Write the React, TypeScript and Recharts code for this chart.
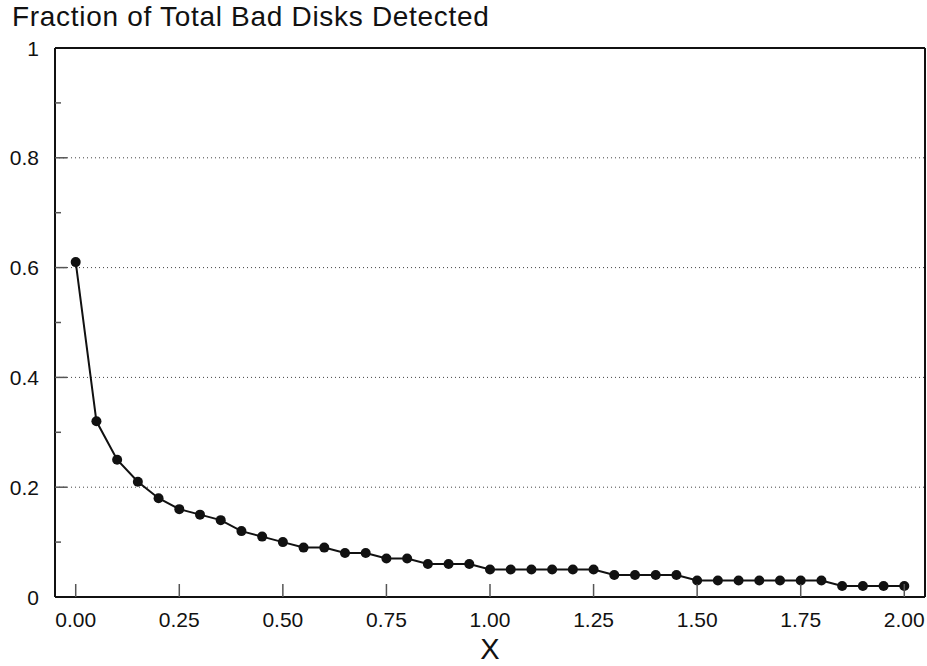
import React from 'react';
import { LineChart, Line, XAxis, YAxis, ReferenceLine } from 'recharts';

const xValues = [0, 0.05, 0.1, 0.15, 0.2, 0.25, 0.3, 0.35, 0.4, 0.45, 0.5, 0.55, 0.6, 0.65, 0.7, 0.75, 0.8, 0.85, 0.9, 0.95, 1.0, 1.05, 1.1, 1.15, 1.2, 1.25, 1.3, 1.35, 1.4, 1.45, 1.5, 1.55, 1.6, 1.65, 1.7, 1.75, 1.8, 1.85, 1.9, 1.95, 2.0];
const fractionDetected = [0.61, 0.32, 0.25, 0.21, 0.18, 0.16, 0.15, 0.14, 0.12, 0.11, 0.10, 0.09, 0.09, 0.08, 0.08, 0.07, 0.07, 0.06, 0.06, 0.06, 0.05, 0.05, 0.05, 0.05, 0.05, 0.05, 0.04, 0.04, 0.04, 0.04, 0.03, 0.03, 0.03, 0.03, 0.03, 0.03, 0.03, 0.02, 0.02, 0.02, 0.02];
const xTicks = [0, 0.25, 0.5, 0.75, 1.0, 1.25, 1.5, 1.75, 2.0];
const yTicks = [0, 0.1, 0.2, 0.3, 0.4, 0.5, 0.6, 0.7, 0.8, 0.9, 1];
const gridValues = [0.2, 0.4, 0.6, 0.8];
const xDomain = [-0.05, 2.05];
const yDomain = [0, 1];

const data = xValues.map((x, i) => ({ x, y: fractionDetected[i] }));

const FONT = '"Liberation Sans", Arial, Helvetica, sans-serif';
const INK = '#111';

const X_MARGIN = 15;
const Y_MARGIN = 16;

const XTick = (props: any) => {
  const { x, y, payload } = props;
  const axisY = y - X_MARGIN;
  return (
    <g>
      <line x1={x} x2={x} y1={axisY} y2={axisY - 13} stroke="#555" strokeWidth={1.5} />
      <text x={x} y={y} dy="0.72em" textAnchor="middle" fontFamily={FONT} fontSize={21} fill={INK}>
        {Number(payload.value).toFixed(2)}
      </text>
    </g>
  );
};

const YTick = (props: any) => {
  const { x, y, payload } = props;
  const v = Number(payload.value);
  const major = Math.round(v * 10) % 2 === 0;
  const axisX = x + Y_MARGIN;
  const label = v === 0 ? '0' : v === 1 ? '1' : v.toFixed(1);
  return (
    <g>
      {v > 0 && v < 1 && (
        <line x1={axisX} x2={axisX + (major ? 12 : 6)} y1={y} y2={y} stroke="#555" strokeWidth={1.5} />
      )}
      {major && (
        <text x={x} y={y} dy="0.36em" textAnchor="end" fontFamily={FONT} fontSize={21} fill={INK}>
          {label}
        </text>
      )}
    </g>
  );
};

const XLabel = (props: any) => {
  const vb = props.viewBox || {};
  return (
    <text
      x={vb.x + vb.width / 2}
      y={vb.y + vb.height - 7}
      textAnchor="middle"
      fontFamily={FONT}
      fontSize={29}
      fill={INK}
    >
      X
    </text>
  );
};

export default function App() {
  return (
    <div style={{ position: 'absolute', left: 0, top: 0, width: 927, height: 666, background: '#fff' }}>
      <div
        style={{
          position: 'absolute',
          left: 12,
          top: 3,
          fontFamily: FONT,
          fontSize: 28,
          letterSpacing: '0.7px',
          color: INK,
          lineHeight: '28px',
          whiteSpace: 'nowrap',
        }}
      >
        Fraction of Total Bad Disks Detected
      </div>
      <LineChart width={927} height={666} data={data} margin={{ top: 48, right: 2, bottom: 0, left: 0 }}>
        {gridValues.map((g) => (
          <ReferenceLine key={g} y={g} stroke="#444" strokeWidth={1} strokeDasharray="1 3" />
        ))}
        <ReferenceLine y={yDomain[1]} stroke={INK} strokeWidth={2} />
        <ReferenceLine x={xDomain[1]} stroke={INK} strokeWidth={2} />
        <XAxis
          type="number"
          dataKey="x"
          domain={xDomain}
          ticks={xTicks}
          allowDataOverflow
          height={69}
          tickSize={0}
          tickMargin={X_MARGIN}
          tick={<XTick />}
          axisLine={{ stroke: INK, strokeWidth: 2 }}
          label={<XLabel />}
        />
        <YAxis
          type="number"
          domain={yDomain}
          ticks={yTicks}
          width={55}
          tickSize={0}
          tickMargin={Y_MARGIN}
          tick={<YTick />}
          interval={0}
          axisLine={{ stroke: INK, strokeWidth: 2 }}
        />
        <Line
          type="linear"
          dataKey="y"
          stroke={INK}
          strokeWidth={2}
          dot={{ r: 5, fill: INK, stroke: INK, strokeWidth: 0 }}
          activeDot={false}
          isAnimationActive={false}
        />
      </LineChart>
    </div>
  );
}
